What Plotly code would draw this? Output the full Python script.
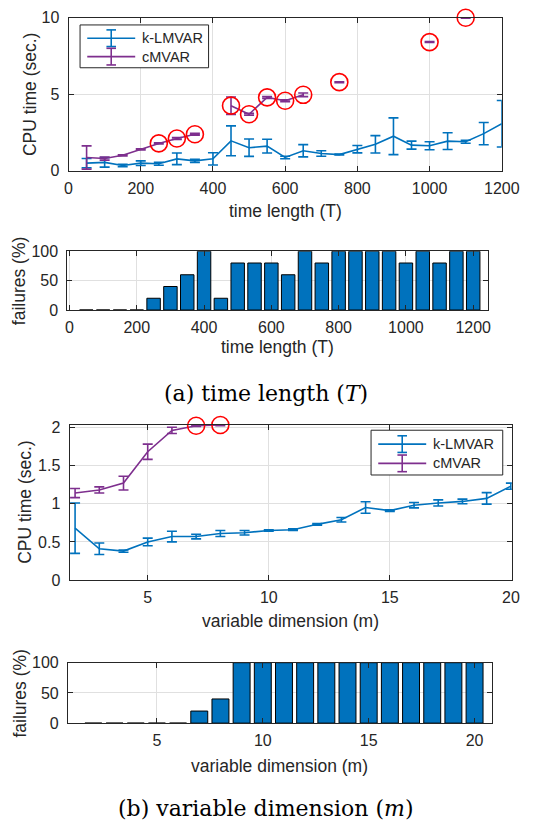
import plotly.graph_objects as go
import numpy as np

nan = float("nan")

# ---------------- data: time length (T) ----------------
time_length = [50, 100, 150, 200, 250, 300, 350, 400, 450, 500, 550, 600,
               650, 700, 750, 800, 850, 900, 950, 1000, 1050, 1100, 1150, 1200]
klm_T_mean = [0.49, 0.54, 0.34, 0.49, 0.45, 0.77, 0.64, 0.77, 1.95, 1.50, 1.60, 0.86,
              1.30, 1.12, 1.05, 1.40, 1.72, 2.25, 1.67, 1.63, 1.93, 1.89, 2.42, 3.07]
klm_T_err = [0.30, 0.31, 0.08, 0.15, 0.10, 0.38, 0.10, 0.40, 0.98, 0.57, 0.45, 0.08,
             0.40, 0.18, 0.03, 0.24, 0.57, 1.20, 0.26, 0.26, 0.55, 0.10, 0.73, 1.52]
cmv_T_mean = [0.86, 0.79, 1.00, 1.39, 1.78, 2.10, 2.38, nan, 4.25, 3.69, 4.79, 4.57,
              4.96, nan, 5.79, nan, nan, nan, nan, 8.41, nan, 10.0, nan, nan]
cmv_T_err = [0.76, 0.10, 0.04, 0.04, 0.04, 0.06, 0.06, nan, 0.57, 0.06, 0.06, 0.06,
             0.12, nan, 0.03, nan, nan, nan, nan, 0.03, nan, 0.03, nan, nan]
fail_T = [0, 0, 0, 0, 20, 40, 60, 100, 20, 80, 80, 80,
          60, 100, 80, 100, 100, 100, 100, 80, 100, 80, 100, 100]

# ---------------- data: variable dimension (m) ----------------
var_dim = [2, 3, 4, 5, 6, 7, 8, 9, 10, 11, 12, 13, 14, 15, 16, 17, 18, 19, 20]
klm_m_mean = [0.68, 0.41, 0.38, 0.50, 0.57, 0.57, 0.61, 0.62, 0.65, 0.66,
              0.73, 0.79, 0.95, 0.91, 0.98, 1.01, 1.03, 1.07, 1.23]
klm_m_err = [0.33, 0.075, 0.015, 0.05, 0.07, 0.03, 0.04, 0.03, 0.01, 0.01,
             0.01, 0.03, 0.075, 0.01, 0.035, 0.04, 0.03, 0.075, 0.04]
cmv_m_mean = [1.14, 1.18, 1.27, 1.68, 1.96, 2.02, 2.03, nan, nan, nan,
              nan, nan, nan, nan, nan, nan, nan, nan, nan]
cmv_m_err = [0.06, 0.04, 0.09, 0.10, 0.04, 0.01, 0.01, nan, nan, nan,
             nan, nan, nan, nan, nan, nan, nan, nan, nan]
fail_m = [0, 0, 0, 0, 0, 20, 40, 100, 100, 100,
          100, 100, 100, 100, 100, 100, 100, 100, 100]

series_names = ["k-LMVAR", "cMVAR"]
captions = ["(a) time length (<i>T</i>)", "(b) variable dimension (<i>m</i>)"]

# ---------------- style ----------------
W, H = 538, 835
BLUE = "#0072BD"
PURPLE = "#7E2F8E"
RED = "#FF0000"
AX = "#262626"
GRID = "#e0e0e0"
SANS = "Liberation Sans"
SERIF = "DejaVu Serif"


def xd(a, b):
    return [a / W, b / W]


def yd(top, bottom):
    return [1 - bottom / H, 1 - top / H]


def px(x):
    return x / W


def py(y):
    return 1 - y / H


def partial_fail(fails, vals):
    return [(f > 0 and f < 100 and not np.isnan(v)) for f, v in zip(fails, vals)]


fig = go.Figure()


def err_line(xs, ys, errs, col, name, xa, ya):
    fig.add_trace(go.Scatter(x=xs, y=ys, mode="lines", name=name,
                             line=dict(color=col, width=1.6), cliponaxis=False,
                             error_y=dict(type="data", array=errs, color=col, thickness=1.6, width=5),
                             xaxis=xa, yaxis=ya, showlegend=False))


def circles(xs, ys, fails, xa, ya):
    mask = partial_fail(fails, ys)
    fig.add_trace(go.Scatter(x=[t for t, k in zip(xs, mask) if k],
                             y=[v for v, k in zip(ys, mask) if k],
                             mode="markers", cliponaxis=False, showlegend=False,
                             marker=dict(symbol="circle-open", size=17, color=RED,
                                         line=dict(width=1.6, color=RED)),
                             xaxis=xa, yaxis=ya))


# panel 1
err_line(time_length, klm_T_mean, klm_T_err, BLUE, series_names[0], "x", "y")
err_line(time_length, cmv_T_mean, cmv_T_err, PURPLE, series_names[1], "x", "y")
circles(time_length, cmv_T_mean, fail_T, "x", "y")
# panel 2
fig.add_trace(go.Bar(x=time_length, y=fail_T, width=40,
                     marker=dict(color=BLUE, line=dict(color="black", width=1)),
                     xaxis="x2", yaxis="y2", showlegend=False))
# panel 3
err_line(var_dim, klm_m_mean, klm_m_err, BLUE, series_names[0], "x3", "y3")
err_line(var_dim, cmv_m_mean, cmv_m_err, PURPLE, series_names[1], "x3", "y3")
circles(var_dim, cmv_m_mean, fail_m, "x3", "y3")
# panel 4
fig.add_trace(go.Bar(x=var_dim, y=fail_m, width=0.8,
                     marker=dict(color=BLUE, line=dict(color="black", width=1)),
                     xaxis="x4", yaxis="y4", showlegend=False))


def axis(domain, rng, tickvals, anchor, standoff):
    return dict(domain=domain, range=rng, tickvals=tickvals, anchor=anchor,
                showline=True, linecolor=AX, linewidth=1, mirror="ticks",
                ticks="inside", ticklen=5, tickcolor=AX, tickwidth=1,
                showgrid=True, gridcolor=GRID, gridwidth=1, zeroline=False,
                tickfont=dict(family=SANS, size=16, color=AX),
                ticklabelstandoff=standoff, fixedrange=True)


fig.update_layout(
    width=W, height=H, margin=dict(l=0, r=0, t=0, b=0),
    paper_bgcolor="white", plot_bgcolor="white", showlegend=False,
    xaxis=axis(xd(67.3, 519), [0, 1200], [0, 200, 400, 600, 800, 1000, 1200], "y", 3),
    yaxis=axis(yd(10, 166), [0, 10], [0, 5, 10], "x", 5),
    xaxis2=axis(xd(66, 505), [-6.5, 1245], [0, 200, 400, 600, 800, 1000, 1200], "y2", 3),
    yaxis2=axis(yd(248.3, 308.3), [0, 100], [0, 50, 100], "x2", 5),
    xaxis3=axis(xd(68.3, 529.5), [1.77, 20.04], [5, 10, 15, 20], "y3", 3),
    yaxis3=axis(yd(425.7, 584), [0, 2.03], [0, 0.5, 1, 1.5, 2], "x3", 5),
    xaxis4=axis(xd(66.7, 508.3), [0.8, 20.8], [5, 10, 15, 20], "y4", 3),
    yaxis4=axis(yd(668.3, 730), [0, 100], [0, 50, 100], "x4", 5),
)

ann = []
tfont = dict(family=SANS, size=17.5, color=AX)


def title(text, x, y, angle=0):
    ann.append(dict(text=text, x=px(x), y=py(y), xref="paper", yref="paper", showarrow=False,
                    xanchor="center", yanchor="middle", textangle=angle, font=tfont))


title("CPU time (sec.)", 27, 88, -90)
title("time length (T)", 293, 207)
title("failures (%)", 16.5, 278, -90)
title("time length (T)", 285.5, 346)
title("CPU time (sec.)", 22, 505, -90)
title("variable dimension (m)", 299, 626)
title("failures (%)", 16.5, 699, -90)
title("variable dimension (m)", 287.5, 774)

for text, y in zip(captions, [393.5, 817]):
    ann.append(dict(text=text, x=px(273), y=py(y), xref="paper", yref="paper", showarrow=False,
                    xanchor="center", yanchor="middle",
                    font=dict(family=SERIF, size=22, color="black")))

shapes = []
lfont = dict(family=SANS, size=14.5, color=AX)


def legend(x0, y0, x1, y1):
    shapes.append(dict(type="rect", xref="paper", yref="paper", x0=px(x0), x1=px(x1), y0=py(y1), y1=py(y0),
                       line=dict(color=AX, width=1), fillcolor="white", layer="above"))
    rows = [(y0 + (y1 - y0) * 0.31, BLUE, series_names[0]),
            (y0 + (y1 - y0) * 0.74, PURPLE, series_names[1])]
    for yy, col, name in rows:
        lx0, lx1 = x0 + 7.5, x0 + 57.5
        cx = (lx0 + lx1) / 2
        seg = [(lx0, yy, lx1, yy), (cx, yy - 8.5, cx, yy + 8.5),
               (cx - 5, yy - 8.5, cx + 5, yy - 8.5), (cx - 5, yy + 8.5, cx + 5, yy + 8.5)]
        for a, b, c, d in seg:
            shapes.append(dict(type="line", xref="paper", yref="paper", x0=px(a), x1=px(c),
                               y0=py(b), y1=py(d), line=dict(color=col, width=1.6), layer="above"))
        ann.append(dict(text=name, x=px(lx1 + 4.5), y=py(yy), xref="paper", yref="paper",
                        showarrow=False, xanchor="left", yanchor="middle", font=lfont))


legend(79.3, 17.3, 213.3, 61)
legend(382.7, 431, 520, 476.7)

fig.update_layout(annotations=ann, shapes=shapes)

fig.write_html("out.html", config={"displayModeBar": False, "staticPlot": True},
               post_script="document.documentElement.style.margin='0px';document.body.style.margin='0px';document.body.style.overflow='hidden';")
